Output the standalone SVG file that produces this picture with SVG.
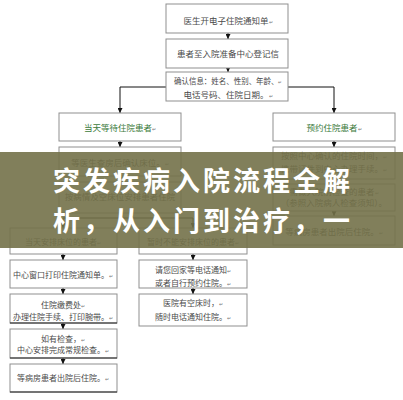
<svg xmlns="http://www.w3.org/2000/svg" width="403" height="400" viewBox="0 0 403 400">
<defs>
<marker id="ah" markerWidth="6" markerHeight="5" refX="5" refY="2.5" orient="auto" markerUnits="userSpaceOnUse">
<path d="M0,0 L5,2.5 L0,5 z" fill="#111"/>
</marker>
<style>
.box{fill:#fff;stroke:#8f8f8f;stroke-width:1}
.dk{stroke:#222;stroke-width:1.2}
.t{font-family:"Noto Sans CJK SC","Liberation Serif",serif;font-size:8.5px;fill:#4a4a4a;text-anchor:middle}
.s{font-size:8px}
.g{fill:#3b7a3b}
.m{font-size:5px;fill:#777}
.c{fill:none;stroke:#111;stroke-width:1}
.ca{fill:none;stroke:#111;stroke-width:1;marker-end:url(#ah)}
.b{font-family:"Noto Sans CJK SC","Noto Sans CJK JP",sans-serif;font-weight:bold;font-size:27px;fill:#fff;letter-spacing:3px}
</style>
</defs>
<rect width="403" height="400" fill="#fff"/>
<g id="connectors">
<path class="ca" d="M228,33 V39"/>
<path class="ca" d="M228,68 V72"/>
<path class="ca" d="M166,87 H120 V113"/>
<path class="ca" d="M288,87 H334 V113"/>
<path class="ca" d="M120,141 V147"/>
<path class="ca" d="M120,176 V182"/>
<path class="c" d="M120,213 V218 M63,218 H193"/>
<path class="ca" d="M63,218 V228"/>
<path class="ca" d="M193,218 V228"/>
<path class="ca" d="M63,254 V260"/>
<path class="ca" d="M63,288 V294"/>
<path class="ca" d="M63,323 V329"/>
<path class="ca" d="M63,358 V364"/>
<path class="ca" d="M193,254 V260"/>
<path class="ca" d="M193,288 V294"/>
<path class="ca" d="M334,141 V147"/>
<path class="ca" d="M334,179 V184"/>
<path class="ca" d="M334,211 V216"/>
</g>
<g id="nA"><rect class="box" x="166" y="4" width="122" height="29"/><text class="t" x="228" y="24">医生开电子住院通知单<tspan class="m">↵</tspan></text></g>
<g id="nB"><rect class="box" x="166" y="39" width="122" height="29"/><text class="t" x="228" y="57">患者至入院准备中心登记信</text></g>
<g id="nC"><rect class="box" x="166" y="72" width="122" height="29"/><text class="t" x="228" y="84" textLength="108" lengthAdjust="spacingAndGlyphs">确认信息：姓名、性别、年龄、<tspan class="m">↵</tspan></text><text class="t" x="228" y="98">电话号码、住院日期。<tspan class="m">↵</tspan></text></g>
<g id="nD"><rect class="box" x="59" y="113" width="122" height="28"/><text class="t g" x="120" y="131">当天等待住院患者<tspan class="m">↵</tspan></text></g>
<g id="nE"><rect class="box" x="273" y="113" width="122" height="28"/><text class="t g" x="334" y="131">预约住院患者<tspan class="m">↵</tspan></text></g>
<g id="nF"><rect class="box" x="59" y="147" width="122" height="29"/><text class="t" x="120" y="166">等医生查房后确认床位。<tspan class="m">↵</tspan></text></g>
<g id="nG"><rect class="box" x="59" y="182" width="122" height="31"/><text class="t" x="120" y="200">按病情及空床位安排患者住院</text></g>
<g id="nR2"><rect class="box" x="273" y="147" width="122" height="32"/><text class="t" x="334" y="159">按照中心确认的住院时间，<tspan class="m">↵</tspan></text><text class="t" x="334" y="172">携带证件到中心办理手续。<tspan class="m">↵</tspan></text></g>
<g id="nR3"><rect class="box" x="273" y="184" width="122" height="27"/><text class="t" x="334" y="195">需做入院前检查的患者<tspan class="m">↵</tspan></text><text class="t" x="334" y="206">（参照入院病人检查须知）。</text></g>
<g id="nR4"><rect class="box" x="273" y="216" width="122" height="29"/><text class="t" x="334" y="235">等病房患者出院后住院。<tspan class="m">↵</tspan></text></g>
<g id="nL1"><rect class="box" x="10" y="228" width="107" height="26"/><text class="t s" x="63" y="245">当天安排床位的患者<tspan class="m">↵</tspan></text></g>
<g id="nM1"><rect class="box" x="139" y="228" width="108" height="26"/><text class="t s" x="193" y="245">暂时不能安排床位的患者<tspan class="m">↵</tspan></text></g>
<g id="nL2"><rect class="box" x="10" y="260" width="107" height="28"/><text class="t s" x="63" y="278">中心窗口打印住院通知单。<tspan class="m">↵</tspan></text></g>
<g id="nM2"><rect class="box" x="139" y="260" width="108" height="28"/><text class="t s" x="193" y="273">请您回家等电话通知<tspan class="m">↵</tspan></text><text class="t s" x="193" y="286">或者自行预约住院。<tspan class="m">↵</tspan></text></g>
<g id="nL3"><rect class="box" x="10" y="294" width="107" height="29"/><path class="dk" d="M10,323 H117"/><text class="t s" x="63" y="308">住院缴费处<tspan class="m">↵</tspan></text><text class="t s" x="63" y="320">办理住院手续、打印腕带。<tspan class="m">↵</tspan></text></g>
<g id="nM3"><rect class="box" x="139" y="294" width="108" height="32"/><text class="t s" x="193" y="306">医院有空床时，<tspan class="m">↵</tspan></text><text class="t s" x="193" y="320">随时电话通知住院。<tspan class="m">↵</tspan></text></g>
<g id="nL4"><rect class="box" x="10" y="329" width="107" height="29"/><path class="dk" d="M10,358 H117"/><text class="t s" x="63" y="342">如有检查，<tspan class="m">↵</tspan></text><text class="t s" x="63" y="353">中心安排完成常规检查。<tspan class="m">↵</tspan></text></g>
<g id="nL5"><rect class="box" x="10" y="364" width="107" height="28"/><path class="dk" d="M10,392 H117"/><text class="t s" x="63" y="381">等病房患者出院后住院。<tspan class="m">↵</tspan></text></g>
<g id="banner">
<rect x="0" y="152" width="403" height="96" fill="#737149" opacity="0.9"/>
<text class="b" x="53" y="191">突发疾病入院流程全解</text>
<text class="b" x="53" y="231">析，从入门到治疗，一</text>
</g>
</svg>
